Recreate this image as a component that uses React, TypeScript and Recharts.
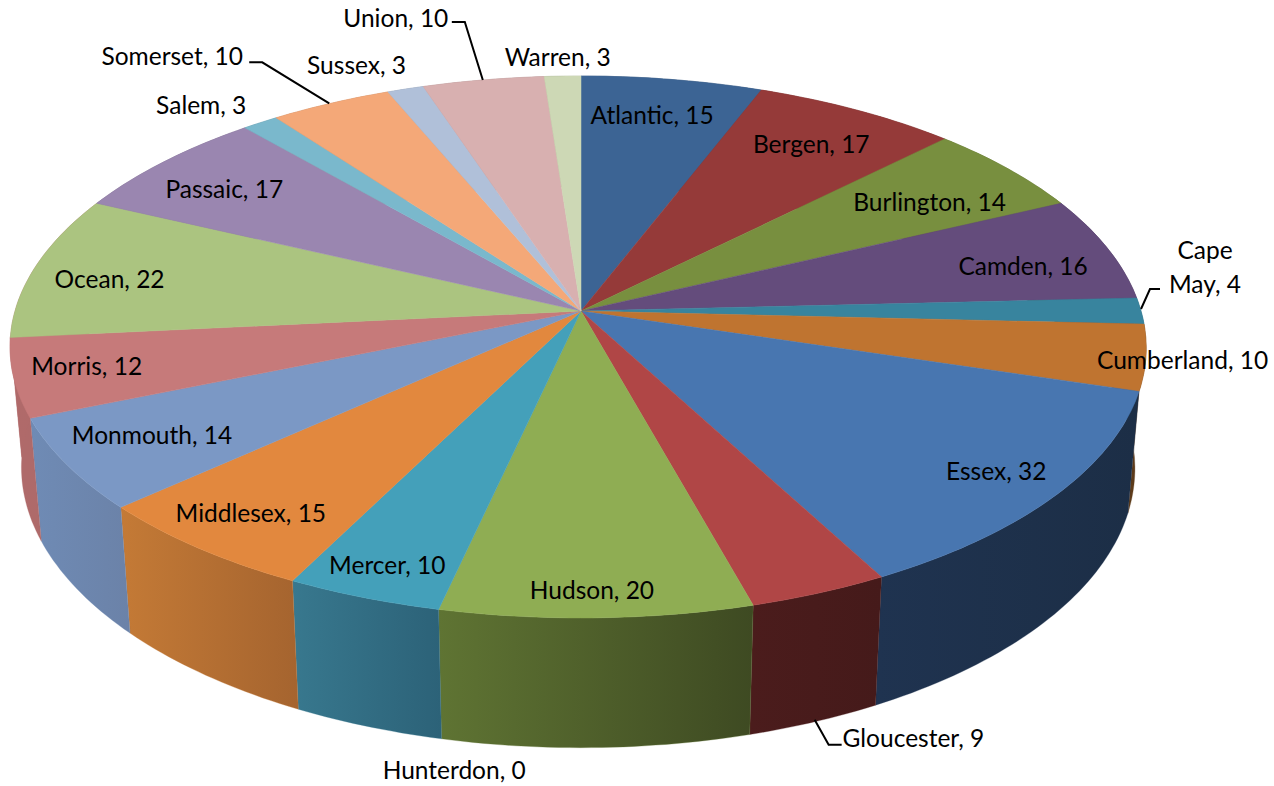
import { Pie, PieChart } from "recharts";

const COUNTIES = [
  "Atlantic", "Bergen", "Burlington", "Camden", "Cape May", "Cumberland", "Essex",
  "Gloucester", "Hunterdon", "Hudson", "Mercer", "Middlesex", "Monmouth", "Morris",
  "Ocean", "Passaic", "Salem", "Somerset", "Sussex", "Union", "Warren",
];

const COUNTS = [15, 17, 14, 16, 4, 10, 32, 9, 0, 20, 10, 15, 14, 12, 22, 17, 3, 10, 3, 10, 3];

const TOP_COLORS = [
  "#3c6494", "#953a39", "#788f3f", "#644c7c", "#38849e", "#bf7430", "#4876b0",
  "#b04646", "#7f61a0", "#8fad53", "#44a0ba", "#e2883e", "#7b98c5", "#c67a7a",
  "#abc480", "#9a86b0", "#7ab8cc", "#f4a878", "#b0c0d9", "#d8b0b0", "#cdd8b5",
];

const WALL_LEFT = [
  "#2a4668", "#692928", "#55652c", "#473657", "#286070", "#5f3d1c", "#1f3350",
  "#4b1c1c", "#5a4470", "#5f7433", "#38788e", "#c47a36", "#6f8bb5", "#b06a6a",
  "#b06a6a", "#6d5f7c", "#56828f", "#ad7755", "#7d8899", "#997d7d", "#919980",
];

const WALL_RIGHT = [
  "#2a4668", "#692928", "#55652c", "#473657", "#286070", "#573517", "#1c2e46",
  "#451a1a", "#5a4470", "#3e4a22", "#2c6278", "#a5642f", "#6b82a8", "#ae6a6a",
  "#ae6a6a", "#6d5f7c", "#56828f", "#ad7755", "#7d8899", "#997d7d", "#919980",
];

// label centre, relative to the rim point at the middle of the slice
const LABEL_OFFSETS = [
  [-20, 35], [-46, 33], [-79, 33], [-87, 17], [61, -45], [34, 2], [-60, -25],
  [94, 145], [-299, 164], [-5, -28], [23, -33], [51, -35], [83, -30], [70, -12],
  [71, 12], [58, 27], [-61, -18], [-160, -48], [-50, -25], [-88, -62], [-5, -20],
];

// leader lines, as steps from the rim point; Gloucester starts on the lower rim
const LEADERS: Record<string, number[][]> = {
  "Cape May": [[-3, -2], [6, -22], [16, -22]],
  Gloucester: [[0, -2], [14, 23], [27, 23]],
  Somerset: [[-3, 0], [-70, -41], [-83, -41]],
  Union: [[-1, 0], [-19, -58], [-32, -58]],
};

const WRAPPED = ["Cape May"];

const tableData = COUNTIES.map((name, i) => ({
  name,
  value: COUNTS[i],
  fill: TOP_COLORS[i],
  wallLeft: WALL_LEFT[i],
  wallRight: WALL_RIGHT[i],
}));

const CX = 581;
const CY = 311;

// circle -> picture, with a little perspective. angle is the recharts one (90 = top, clockwise going down)
const basePoint = (angle: number) => {
  const t = ((90 - angle) * Math.PI) / 180;
  const u = Math.sin(t);
  const v = -Math.cos(t);
  const d = 1 - 0.1327 * v;
  return { x: CX + (563 * u) / d, y: CY + (266.2 * v) / d, u };
};

// the rim sits about 3px left of the centre point at its widest
const topPoint = (angle: number) => {
  const p = basePoint(angle);
  const shift = p.u > 0 ? 3 * Math.pow(p.u, 6) : -3 * p.u;
  return { x: p.x - shift, y: p.y };
};

const lowPoint = (angle: number) => {
  const p = topPoint(angle);
  return { x: CX + 0.98 * (p.x - CX), y: 430 + 1.035 * (p.y - CY) };
};

const arc = (start: number, end: number, fn: (a: number) => { x: number; y: number }) => {
  const n = Math.max(1, Math.ceil(Math.abs(end - start)));
  const pts = [];
  for (let i = 0; i <= n; i++) pts.push(fn(start + ((end - start) * i) / n));
  return pts;
};

const toPath = (pts: { x: number; y: number }[]) =>
  "M" + pts.map((p) => `${p.x.toFixed(1)},${p.y.toFixed(1)}`).join("L") + "Z";

const TopSlice = (props: any) => {
  const { startAngle, endAngle, fill } = props;
  if (startAngle === endAngle) return <g />;
  const d = toPath([{ x: CX, y: CY }, ...arc(startAngle, endAngle, topPoint)]);
  return <path d={d} fill={fill} stroke={fill} strokeWidth={0.5} />;
};

const WallSlice = (props: any) => {
  const { startAngle, endAngle, wallLeft, wallRight, name } = props;
  if (startAngle === endAngle) return <g />;
  const upper = arc(startAngle, endAngle, topPoint);
  const lower = arc(startAngle, endAngle, lowPoint).reverse();
  const id = "wall-" + name.replace(" ", "-");
  return (
    <g>
      <defs>
        <linearGradient id={id} x1="0" y1="0" x2="1" y2="0">
          <stop offset="0" stopColor={wallLeft} />
          <stop offset="1" stopColor={wallRight} />
        </linearGradient>
      </defs>
      <path d={toPath([...upper, ...lower])} fill={`url(#${id})`} stroke={wallLeft} strokeWidth={0.3} />
    </g>
  );
};

const SliceLabel = (props: any) => {
  const { midAngle, index, name, value } = props;
  const rim = basePoint(midAngle);
  const [dx, dy] = LABEL_OFFSETS[index];
  const x = rim.x + dx;
  const y = rim.y + dy;
  const leader = LEADERS[name];
  const from = name === "Gloucester" ? lowPoint(midAngle) : rim;
  const text = `${name}, ${value}`;
  const firstSpace = text.indexOf(" ");
  const lines = WRAPPED.includes(name) ? [text.slice(0, firstSpace), text.slice(firstSpace + 1)] : [text];
  return (
    <g>
      {leader && (
        <polyline
          points={leader.map(([a, b]) => `${from.x + a},${from.y + b}`).join(" ")}
          fill="none"
          stroke="#000"
          strokeWidth={2}
        />
      )}
      {lines.map((line, i) => (
        <text
          key={line}
          x={x}
          y={y + (i - (lines.length - 1) / 2) * 34}
          textAnchor="middle"
          dominantBaseline="central"
          fontFamily="Lato, sans-serif"
          fontSize={24.5}
          fill="#000"
        >
          {line}
        </text>
      ))}
    </g>
  );
};

export default function App() {
  return (
    <div style={{ position: "absolute", left: 0, top: 0, width: 1274, height: 786, background: "#fff" }}>
      <PieChart width={1274} height={786} margin={{ top: 0, right: 0, bottom: 0, left: 0 }}>
        <Pie
          data={tableData}
          dataKey="value"
          nameKey="name"
          cx={CX}
          cy={CY}
          outerRadius={300}
          startAngle={90}
          endAngle={-270}
          stroke="none"
          shape={WallSlice}
          label={false}
          labelLine={false}
          isAnimationActive={false}
        />
        <Pie
          data={tableData}
          dataKey="value"
          nameKey="name"
          cx={CX}
          cy={CY}
          outerRadius={300}
          startAngle={90}
          endAngle={-270}
          stroke="none"
          shape={TopSlice}
          label={SliceLabel}
          labelLine={false}
          isAnimationActive={false}
        />
      </PieChart>
    </div>
  );
}
